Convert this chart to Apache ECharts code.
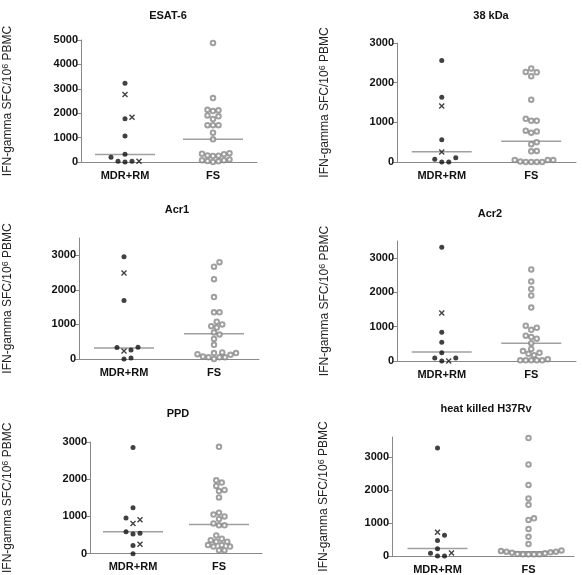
<!DOCTYPE html>
<html>
<head>
<meta charset="utf-8">
<script src="https://cdn.jsdelivr.net/npm/echarts@6/dist/echarts.min.js"></script>
<style>
  html, body { margin: 0; padding: 0; background: #fff; }
  #chart { width: 582px; height: 575px; }
</style>
</head>
<body>
<div id="chart"></div>
<script>
// values (IFN-gamma SFC / 10^6 PBMC)
var categories = ['MDR+RM', 'FS'];
var panelTitles = ['ESAT-6', '38 kDa', 'Acr1', 'Acr2', 'PPD', 'heat killed H37Rv'];
var yMax = [5000, 3000, 3500, 3500, 3000, 3600];
var yTicks = [
    [0, 1000, 2000, 3000, 4000, 5000],
    [0, 1000, 2000, 3000],
    [0, 1000, 2000, 3000],
    [0, 1000, 2000, 3000],
    [0, 1000, 2000, 3000],
    [0, 1000, 2000, 3000]
];

var esat6Mdr = [3230, 1770, 1070, 320, 190, 30, 0, 30];
var esat6Rm = [2770, 1830, 30];
var esat6Fs = [4880, 2620, 2120, 2140, 2090, 1910, 1870, 1760, 1510, 1510, 1510, 1200, 930,
    360, 320, 260, 250, 270, 340, 70, 30, 0, 40, 70, 100];
var esat6Median = [310, 930];

var kda38Mdr = [2560, 1630, 560, 70, 0, 0, 110];
var kda38Rm = [1410, 250];
var kda38Fs = [2360, 2270, 2260, 2160, 1570, 1090, 1040, 1040, 770, 740, 790, 450, 500,
    280, 270, 50, 10, 0, 0, 0, 0, 50, 50];
var kda38Median = [260, 520];

var acr1Mdr = [2960, 1690, 340, 330, 260, 0, 30];
var acr1Rm = [2490, 230];
var acr1Fs = [2800, 2670, 2310, 1790, 1350, 1350, 1000, 950, 910, 1080, 770, 710, 580, 410,
    120, 170, 170, 190, 140, 50, 50, 70, 50, 0];
var acr1Median = [320, 730];

var acr2Mdr = [3320, 840, 550, 240, 90, 0, 90];
var acr2Rm = [1400, 0];
var acr2Fs = [2670, 2320, 2100, 1910, 1560, 1030, 910, 970, 740, 700, 650, 520, 350, 240,
    210, 290, 170, 20, 20, 20, 20, 20, 50];
var acr2Median = [260, 520];

var ppdMdr = [2850, 1230, 960, 590, 530, 550, 220, 0];
var ppdRm = [910, 810, 250];
var ppdFs = [2870, 1910, 1970, 1820, 1710, 1680, 1510, 1050, 1100, 1000, 930, 760, 760, 810,
    490, 360, 400, 320, 320, 190, 230, 230, 190, 90, 90];
var ppdMedian = [590, 780];

var h37Mdr = [3270, 630, 470, 220, 0, 0, 80];
var h37Rm = [720, 90];
var h37Fs = [3570, 2770, 2150, 1740, 1550, 1090, 1140, 820, 580, 360, 170, 130, 80, 100,
    50, 50, 50, 50, 60, 110, 130, 150];
var h37Median = [230, 130];

var panels = [
    [esat6Mdr, esat6Rm, esat6Fs, esat6Median],
    [kda38Mdr, kda38Rm, kda38Fs, kda38Median],
    [acr1Mdr, acr1Rm, acr1Fs, acr1Median],
    [acr2Mdr, acr2Rm, acr2Fs, acr2Median],
    [ppdMdr, ppdRm, ppdFs, ppdMedian],
    [h37Mdr, h37Rm, h37Fs, h37Median]
];

// layout of the six plots
var grids = [
    { left: 80, top: 40, width: 177, height: 122 },
    { left: 397, top: 43, width: 179, height: 119 },
    { left: 77, top: 238, width: 182, height: 121 },
    { left: 397, top: 241, width: 179, height: 120 },
    { left: 86, top: 442, width: 176, height: 117 },
    { left: 392, top: 437, width: 182, height: 121 }
];
var titlePos = [[163, 5], [486, 5], [172, 199], [485, 203], [173, 403], [481, 398]];
var nameGaps = [66, 65, 64, 65, 75, 61];

var crossPath = 'path://M0,0L10,10M10,0L0,10';

// simple beeswarm: spread points with close values sideways
function swarm(values, pxPerVal, d) {
    var order = values.map(function (v, i) { return i; });
    order.sort(function (a, b) { return values[a] - values[b]; });
    var placed = [];
    var offs = [];
    order.forEach(function (i) {
        var y = values[i] * pxPerVal;
        for (var k = 0; k < 200; k++) {
            var dx = (k % 2 === 1 ? 1 : -1) * Math.ceil(k / 2) * d / 2;
            var ok = placed.every(function (p) {
                return (p.x - dx) * (p.x - dx) + (p.y - y) * (p.y - y) >= d * d - 0.01;
            });
            if (ok) {
                placed.push({ x: dx, y: y });
                offs[i] = dx;
                break;
            }
        }
    });
    return offs;
}

var chart = echarts.init(document.getElementById('chart'));

var option = {
    backgroundColor: '#fff',
    animation: false,
    title: [],
    grid: [],
    xAxis: [],
    yAxis: [],
    series: []
};

panels.forEach(function (p, i) {
    var g = grids[i];
    var pxPerVal = g.height / yMax[i];
    option.grid.push({ left: g.left, top: g.top, width: g.width, height: g.height });
    option.title.push({
        text: panelTitles[i],
        left: titlePos[i][0],
        top: titlePos[i][1],
        textAlign: 'center',
        textStyle: { fontFamily: 'Liberation Sans', fontSize: 11, fontWeight: 'bold', color: '#111' }
    });
    option.xAxis.push({
        type: 'category',
        gridIndex: i,
        data: categories,
        axisLine: { lineStyle: { color: '#888', width: 1 } },
        axisTick: { show: false },
        axisLabel: { margin: 8, fontFamily: 'Liberation Sans', fontSize: 11, fontWeight: 'bold', color: '#111' }
    });
    option.yAxis.push({
        type: 'value',
        gridIndex: i,
        min: 0,
        max: yMax[i],
        name: 'IFN-gamma SFC/10{sup|6} PBMC',
        nameLocation: 'middle',
        nameGap: nameGaps[i],
        nameTextStyle: {
            fontFamily: 'Liberation Sans', fontSize: 12, color: '#222',
            rich: { sup: { fontFamily: 'Liberation Sans', fontSize: 9, color: '#222', verticalAlign: 'top', lineHeight: 14 } }
        },
        splitLine: { show: false },
        axisLine: { show: true, lineStyle: { color: '#888', width: 1 } },
        axisTick: { show: true, length: 4, customValues: yTicks[i], lineStyle: { color: '#888' } },
        axisLabel: {
            customValues: yTicks[i], margin: 3,
            fontFamily: 'Liberation Sans', fontSize: 11, fontWeight: 'bold', color: '#111',
            formatter: function (v) { return String(v); }
        }
    });

    // MDR+RM column: filled dots and crosses swarm together
    var mdrVals = p[0].concat(p[1]);
    var mdrOffs = swarm(mdrVals, pxPerVal, 7);
    var fsOffs = swarm(p[2], pxPerVal, 5.5);

    option.series.push({
        type: 'scatter',
        xAxisIndex: i, yAxisIndex: i,
        z: 1, silent: true,
        symbol: 'rect',
        symbolSize: [60, 1.5],
        itemStyle: { color: '#888' },
        data: [[0, p[3][0]], [1, p[3][1]]]
    });
    option.series.push({
        type: 'scatter',
        xAxisIndex: i, yAxisIndex: i,
        z: 3,
        symbol: 'circle',
        symbolSize: 5,
        itemStyle: { color: '#111' },
        data: p[0].map(function (v, j) {
            return { value: [0, v], symbolOffset: [mdrOffs[j], 0] };
        })
    });
    option.series.push({
        type: 'scatter',
        xAxisIndex: i, yAxisIndex: i,
        z: 3,
        symbol: crossPath,
        symbolSize: 5,
        itemStyle: { color: 'none', borderColor: '#111', borderWidth: 1.4 },
        data: p[1].map(function (v, j) {
            return { value: [0, v], symbolOffset: [mdrOffs[p[0].length + j], 0] };
        })
    });
    option.series.push({
        type: 'scatter',
        xAxisIndex: i, yAxisIndex: i,
        z: 3,
        symbol: 'emptyCircle',
        symbolSize: 4.5,
        itemStyle: { color: '#888', borderWidth: 1 },
        data: p[2].map(function (v, j) {
            return { value: [1, v], symbolOffset: [fsOffs[j], 0] };
        })
    });
});

chart.setOption(option);
</script>
</body>
</html>
